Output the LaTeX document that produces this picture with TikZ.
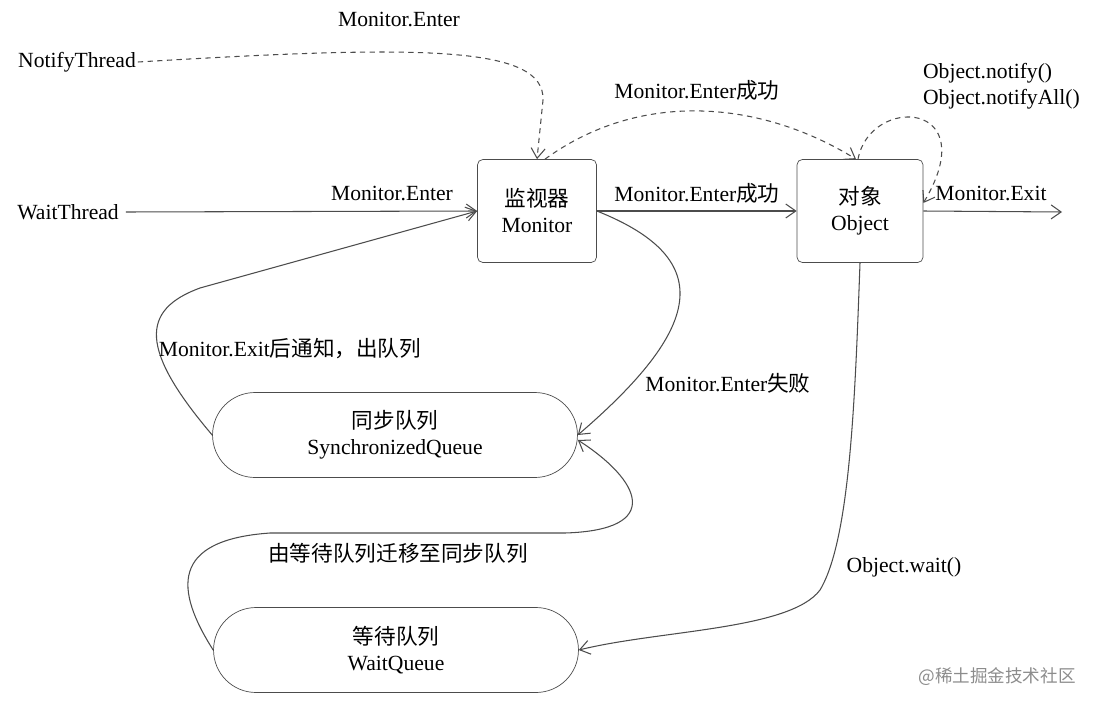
\documentclass[tikz,border=0pt]{standalone}
\usepackage{fontspec}
\setmainfont{Liberation Serif}
\newfontfamily\cjk{Noto Sans CJK SC}
\usetikzlibrary{arrows.meta,shapes.misc}
\begin{document}
\begin{tikzpicture}[x=0.02cm,y=-0.02cm,
        font=\fontsize{12.3}{14.8}\selectfont,
        box/.style={draw=black!70,rounded corners=3pt,align=center,minimum height=2.06cm,inner sep=0pt},
        queue/.style={draw=black!70,rounded rectangle,align=center,minimum width=7.3cm,minimum height=1.7cm,inner sep=0pt},
        conn/.style={draw=black!70,line width=0.6pt,-{Straight Barb[length=2mm,width=2.8mm]}},
        dashconn/.style={conn,dash pattern=on 3pt off 2.5pt},
        lbl/.style={inner sep=1pt}]
    \useasboundingbox (0,0) rectangle (1098,706);

    % Draw the monitor, the object and the two queues
    \node[box,minimum width=2.38cm] (monitor) at (537,211) {{\cjk 监视器}\\Monitor};
    \node[box,minimum width=2.52cm] (object) at (860,211) {{\cjk 对象}\\Object};
    \node[queue] (sync) at (395,435) {{\cjk 同步队列}\\SynchronizedQueue};
    \node[queue] (wait) at (396,650) {{\cjk 等待队列}\\WaitQueue};

    % Draw the threads
    \node[lbl] (notify) at (77,62) {NotifyThread};
    \node[lbl] (waitthr) at (68,212) {WaitThread};
    \coordinate (exit) at (1062,212);

    % Draw the entries into the monitor
    \draw[dashconn] (notify.east) .. controls (420,45) and (545,45) .. (543,100) -- (monitor.north);
    \draw[conn] ([xshift=0.1cm]waitthr.east) -- (monitor.west);
    \draw[conn] (sync.west) .. controls (140,350) and (140,310) .. (200,288) -- (monitor.west);

    % Draw the way through the object
    \draw[dashconn] ([xshift=0.16cm]monitor.north) .. controls (640,90) and (760,100) .. ([xshift=-0.08cm]object.north);
    \draw[conn] (monitor.east) -- (object.west);
    \draw[dashconn] ([xshift=-0.04cm]object.north) .. controls (870,95) and (985,100) .. ([yshift=0.16cm]object.east);
    \draw[conn] (object.east) -- (exit);

    % Draw the ways into the queues
    \draw[conn] (monitor.east) .. controls (720,260) and (700,330) .. (sync.east);
    \draw[conn] (wait.west) .. controls (175,590) and (170,540) .. (270,533) -- (565,533)
        .. controls (665,530) and (640,480) .. ([yshift=-0.1cm]sync.east);
    \draw[conn] (object.south) .. controls (855,400) and (850,540) .. (820,590)
        .. controls (790,630) and (660,630) .. (wait.east);

    % Draw the labels
    \node[lbl] (enterTop) at (399,20) {Monitor.Enter};
    \node[lbl] (enterWait) at (392,193) {Monitor.Enter};
    \node[lbl] (okTop) at (697,90) {Monitor.Enter{\cjk 成功}};
    \node[lbl] (okMid) at (697,193) {Monitor.Enter{\cjk 成功}};
    \node[lbl,anchor=west,align=left] (notifyAll) at (921,86) {Object.notify()\\Object.notifyAll()};
    \node[lbl] (exitLbl) at (991,193) {Monitor.Exit};
    \node[lbl] (fail) at (728,383) {Monitor.Enter{\cjk 失败}};
    \node[lbl] (notifyOut) at (290,349) {Monitor.Exit{\cjk 后通知，出队列}};
    \node[lbl] (moveLbl) at (398,553) {{\cjk 由等待队列迁移至同步队列}};
    \node[lbl] (waitCall) at (904,567) {Object.wait()};
    \node[lbl,text=black!45,font=\fontsize{10}{12}\selectfont\cjk] (mark) at (997,677) {@稀土掘金技术社区};
\end{tikzpicture}
\end{document}
